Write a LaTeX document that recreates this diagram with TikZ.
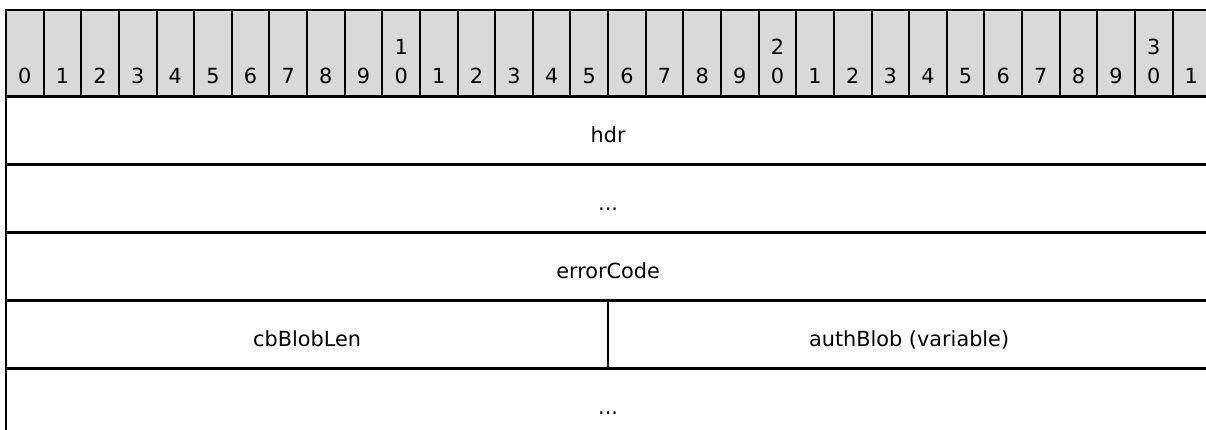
\documentclass[tikz,border=0pt]{standalone}
\usepackage{fontspec}
\setmainfont{DejaVu Sans}
\definecolor{hdrgray}{HTML}{D9D9D9}
\begin{document}
\begin{tikzpicture}[x=1pt,y=-1pt,
  cell/.style={draw=black,line width=2pt,fill=hdrgray,minimum width=37.63pt,minimum height=86.5pt,inner sep=0pt,outer sep=0pt},
  field/.style={draw=black,line width=2.2pt,minimum height=68pt,inner sep=0pt,outer sep=0pt,text height=30pt,text depth=6pt},
  digit/.style={anchor=base,inner sep=0pt},
  every node/.style={font=\fontsize{20.8}{25}\selectfont}]
\useasboundingbox (0,0) rectangle (1206,430);
\clip (0,0) rectangle (1206,430);
% header cells
\foreach \i in {0,...,31}{
  \pgfmathsetmacro{\cx}{6+(\i+0.5)*37.63}
  \node[cell] (c\i) at (\cx,53.25) {};
  \pgfmathtruncatemacro{\u}{mod(\i,10)}
  \node[digit] (d\i) at (\cx,83.3) {\u};
}
\foreach \i/\t in {10/1,20/2,30/3}{
  \pgfmathsetmacro{\cx}{6+(\i+0.5)*37.63}
  \node[digit] (t\i) at (\cx,55) {\t};
}
% fields
\node[field,minimum width=1204.16pt] (hdr) at (608.08,130.5) {hdr};
\node[field,minimum width=1204.16pt] (dots1) at (608.08,198.5) {...};
\node[field,minimum width=1204.16pt] (err) at (608.08,266.5) {errorCode};
\node[field,minimum width=602.08pt] (cb) at (307.04,334.5) {cbBlobLen};
\node[field,minimum width=602.08pt] (auth) at (909.12,334.5) {authBlob (variable)};
\node[field,minimum width=1204.16pt] (dots2) at (608.08,402.5) {...};
\end{tikzpicture}
\end{document}
